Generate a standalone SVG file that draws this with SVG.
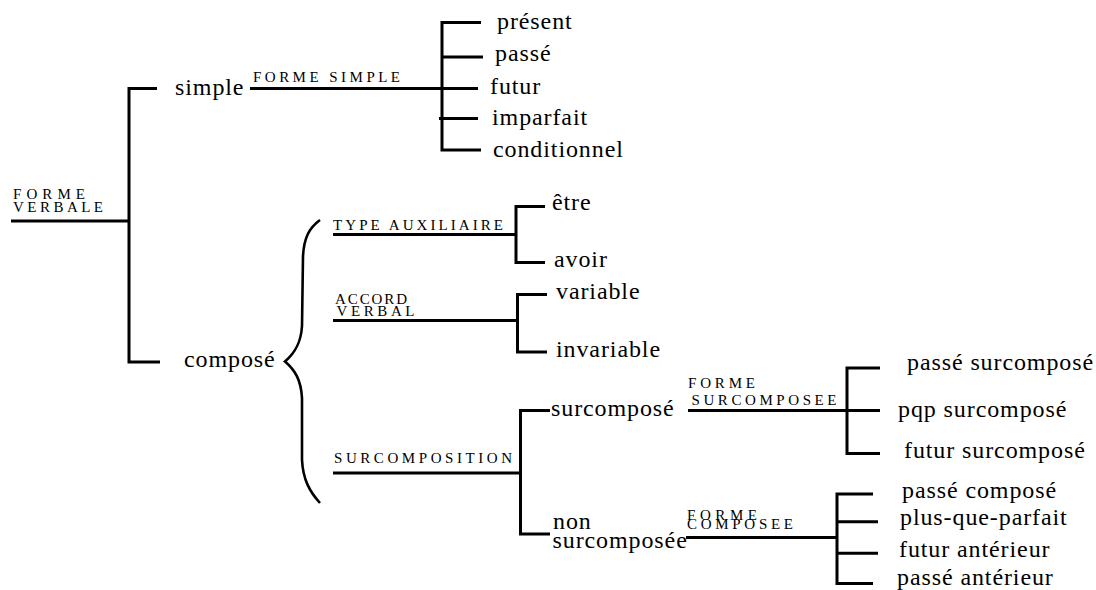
<svg xmlns="http://www.w3.org/2000/svg" width="1096" height="590" viewBox="0 0 1096 590">
<style>
text{font-family:"Liberation Serif","Times New Roman","DejaVu Serif",serif;fill:#000}
.t{font-size:24px;letter-spacing:0.9px}
.s{font-size:15px}
.c{fill:none;stroke:#000;stroke-width:3}
.b{fill:none;stroke:#000;stroke-width:2.6;stroke-linejoin:miter}
</style>
<rect width="1096" height="590" fill="#fff"/>
<g id="connectors">
  <path class="c" d="M11,221 H129"/>
  <path class="c" d="M157,88.5 H129 V362 H160"/>
  <path class="c" d="M250,88.5 H478"/>
  <path class="c" d="M481,22.5 H442 V150 H481"/>
  <path class="c" d="M442,57 H483"/>
  <path class="c" d="M439,118.5 H478"/>
  <path class="b" d="M320,220 C309,228 304,238 303,256 L302,326 C301,343 295,353 285,361.5 C295,370 301,380 302,398 L302,460 C303,480 310,492 320,503"/>
  <path class="c" d="M333,234.5 H516"/>
  <path class="c" d="M545,206.5 H516 V262.5 H545"/>
  <path class="c" d="M333,320.5 H517.5"/>
  <path class="c" d="M547,294.5 H517.5 V352 H547"/>
  <path class="c" d="M333,473 H520.5"/>
  <path class="c" d="M550,410.5 H520.5 V534 H550"/>
  <path class="c" d="M688,410.5 H880"/>
  <path class="c" d="M880,368 H847 V453.5 H880"/>
  <path class="c" d="M686,537.5 H837"/>
  <path class="c" d="M873,494 H837 V583.5 H873"/>
  <path class="c" d="M837,521.7 H878"/>
  <path class="c" d="M837,553.3 H878"/>
  <g id="edge-labels">
    <text class="s" font-family="Liberation Serif, serif" x="253" y="81.5" textLength="147">FORME SIMPLE</text>
    <text class="s" font-family="Liberation Serif, serif" x="333" y="230" textLength="170">TYPE AUXILIAIRE</text>
    <text class="s" font-family="Liberation Serif, serif" x="335" y="303.5" textLength="72">ACCORD</text>
    <text class="s" font-family="Liberation Serif, serif" x="336.5" y="316" textLength="78">VERBAL</text>
    <text class="s" font-family="Liberation Serif, serif" x="334" y="462.5" textLength="178">SURCOMPOSITION</text>
    <text class="s" font-family="Liberation Serif, serif" x="688" y="388" textLength="67">FORME</text>
    <text class="s" font-family="Liberation Serif, serif" x="691.5" y="405" textLength="145">SURCOMPOSEE</text>
    <text class="s" font-family="Liberation Serif, serif" x="687" y="519.5" textLength="70">FORME</text>
    <text class="s" font-family="Liberation Serif, serif" x="687" y="528.5" textLength="106">COMPOSEE</text>
  </g>
</g>
<g id="forme-verbale">
  <text class="s" x="13" y="199" textLength="72">FORME</text>
  <text class="s" x="13" y="212" textLength="90">VERBALE</text>
</g>
<g id="simple"><text class="t" x="175" y="95">simple</text></g>
<g id="compose"><text class="t" x="184" y="367">composé</text></g>
<g id="present"><text class="t" x="497" y="28.5">présent</text></g>
<g id="passe"><text class="t" x="495" y="61">passé</text></g>
<g id="futur"><text class="t" x="490" y="93.5">futur</text></g>
<g id="imparfait"><text class="t" x="492" y="125">imparfait</text></g>
<g id="conditionnel"><text class="t" x="493" y="157">conditionnel</text></g>
<g id="etre"><text class="t" x="552" y="210">être</text></g>
<g id="avoir"><text class="t" x="554" y="267">avoir</text></g>
<g id="variable"><text class="t" x="556" y="298.5">variable</text></g>
<g id="invariable"><text class="t" x="556" y="357">invariable</text></g>
<g id="surcompose"><text class="t" x="551" y="416">surcomposé</text></g>
<g id="non-surcomposee">
  <text class="t" x="553" y="529">non</text>
  <text class="t" x="552.5" y="548">surcomposée</text>
</g>
<g id="passe-surcompose"><text class="t" x="907" y="370">passé surcomposé</text></g>
<g id="pqp-surcompose"><text class="t" x="898" y="417">pqp surcomposé</text></g>
<g id="futur-surcompose"><text class="t" x="904" y="458">futur surcomposé</text></g>
<g id="passe-compose"><text class="t" x="902" y="498">passé composé</text></g>
<g id="plus-que-parfait"><text class="t" x="900" y="525">plus-que-parfait</text></g>
<g id="futur-anterieur"><text class="t" x="899" y="557">futur antérieur</text></g>
<g id="passe-anterieur"><text class="t" x="897" y="585">passé antérieur</text></g>
</svg>
